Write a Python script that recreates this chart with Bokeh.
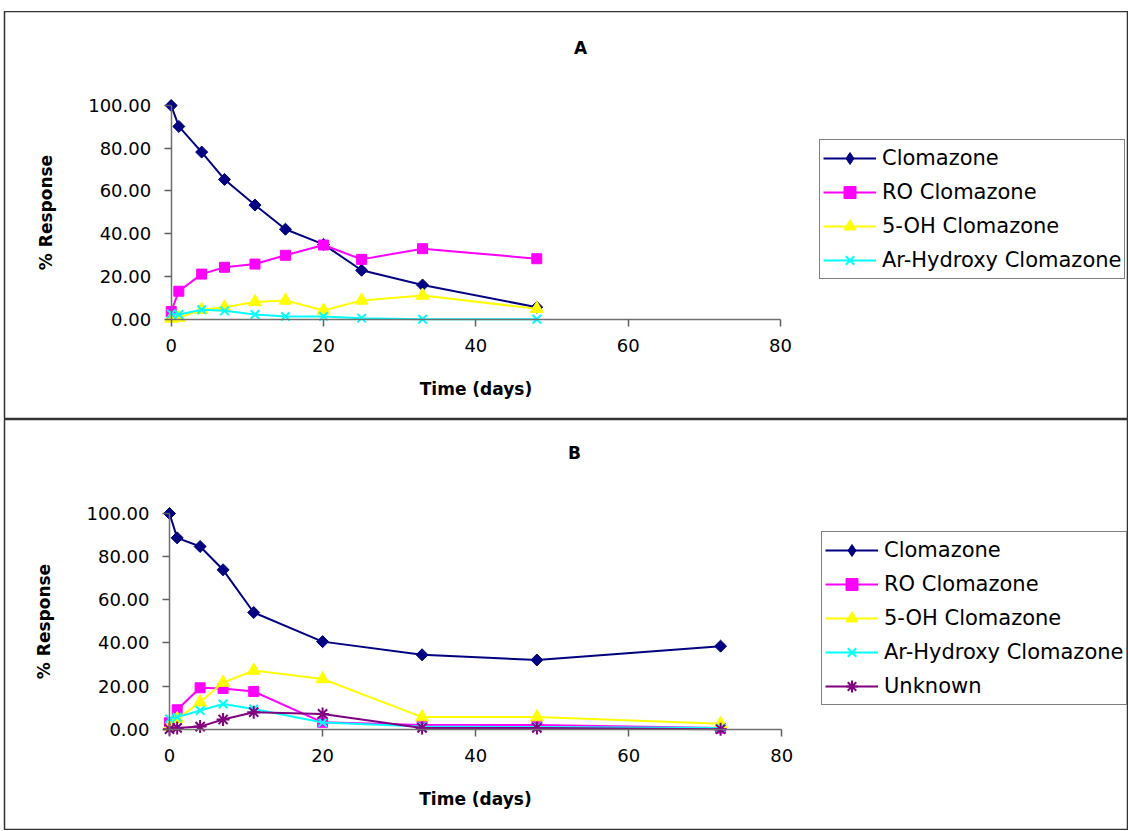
import math
from bokeh.plotting import figure
from bokeh.models import (Range1d, FixedTicker, NumeralTickFormatter, Legend,
                          LegendItem, Label, Spacer)
from bokeh.layouts import column
from bokeh.embed import file_html
from bokeh.resources import INLINE

# ---------------- data ----------------
days_a = [0, 1, 4, 7, 11, 15, 20, 25, 33, 48]
a_clomazone = [100.0, 90.2, 78.2, 65.4, 53.4, 42.1, 35.0, 22.9, 16.0, 5.6]
a_ro = [3.6, 13.1, 21.1, 24.3, 25.8, 29.9, 34.7, 28.0, 33.0, 28.3]
a_5oh = [0.3, 0.8, 4.4, 5.6, 8.1, 8.8, 4.1, 8.8, 11.1, 4.9]
a_arhydroxy = [2.5, 2.2, 4.4, 3.9, 2.2, 1.3, 1.3, 0.5, 0.0, 0.0]

days_b = [0, 1, 4, 7, 11, 20, 33, 48, 72]
b_clomazone = [100.0, 88.7, 84.7, 73.9, 54.1, 40.6, 34.5, 32.1, 38.5]
b_ro = [3.0, 9.0, 19.2, 18.9, 17.5, 3.2, 2.0, 2.0, 0.5]
b_5oh = [1.2, 4.8, 12.5, 21.6, 27.2, 23.3, 5.6, 5.6, 2.5]
b_arhydroxy = [4.8, 5.6, 8.7, 11.7, 9.4, 3.1, 1.2, 1.0, 0.5]
b_unknown = [0.0, 0.6, 1.2, 4.5, 7.9, 7.1, 0.6, 0.6, 0.0]

series_names = ["Clomazone", "RO Clomazone", "5-OH Clomazone",
                "Ar-Hydroxy Clomazone", "Unknown"]
x_ticks = [0, 20, 40, 60, 80]
y_ticks = [0, 20, 40, 60, 80, 100]

# ---------------- styles ----------------
STYLE = {
    "Clomazone": dict(color="#000080", marker="square", size=8.5, angle=math.pi / 4, lw=1,
                      legend_marker="diamond", legend_size=14),
    "RO Clomazone": dict(color="#FF00FF", marker="square", size=10, angle=0, lw=1),
    "5-OH Clomazone": dict(color="#FFFF00", marker="triangle", size=13, angle=0, lw=1),
    "Ar-Hydroxy Clomazone": dict(color="#00FFFF", marker="x", size=12, angle=0, lw=2),
    "Unknown": dict(color="#800080", marker="asterisk", size=13, angle=0, lw=2),
}
FONT = "DejaVu Sans"
W = 1128


def make_panel(title, days, data, page_top, fig_h, box_left, x0p, x80p, y0p, y100p,
               title_page, legend_page):
    # page -> data mapping (frame covers the whole panel box)
    sx = (x80p - x0p) / 80.0
    sy = (y0p - y100p) / 100.0
    page_bottom = page_top + fig_h
    x_start = (box_left - x0p) / sx
    x_end = (W - x0p) / sx
    y_start = (y0p - page_bottom) / sy
    y_end = (y0p - page_top) / sy

    p = figure(width=W, height=fig_h, output_backend="svg", toolbar_location=None,
               x_range=Range1d(x_start, x_end), y_range=Range1d(y_start, y_end),
               min_border_left=box_left, min_border_right=0,
               min_border_top=0, min_border_bottom=0, title=None)
    p.outline_line_color = "#333333"
    p.outline_line_width = 1.5
    p.xgrid.visible = False
    p.ygrid.visible = False
    p.background_fill_color = "white"
    p.border_fill_color = "white"

    for ax in (p.xaxis[0], p.yaxis[0]):
        ax.fixed_location = 0
        ax.axis_line_color = "#707070"
        ax.axis_line_width = 1.5
        ax.major_tick_line_color = "#606060"
        ax.major_tick_line_width = 1.5
        ax.major_tick_in = 0
        ax.major_tick_out = 7
        ax.minor_tick_line_color = None
        ax.major_label_text_font = FONT
        ax.major_label_text_font_size = "18px"
        ax.major_label_text_color = "black"
        ax.axis_label_text_font = FONT
        ax.axis_label_text_font_style = "bold"
        ax.axis_label_text_font_size = "17px"
        ax.axis_label_text_color = "black"

    p.xaxis.bounds = (0, 80)
    p.yaxis.bounds = (0, 100)
    p.xaxis.ticker = FixedTicker(ticks=x_ticks)
    p.yaxis.ticker = FixedTicker(ticks=y_ticks)
    p.yaxis.formatter = NumeralTickFormatter(format="0.00")
    p.xaxis.major_label_standoff = 13
    p.yaxis.major_label_standoff = 13
    p.xaxis.axis_label = "Time (days)"
    p.yaxis.axis_label = "% Response"
    p.xaxis.axis_label_standoff = 23
    p.yaxis.axis_label_standoff = 30

    items = []
    for name, vals in data:
        st = STYLE[name]
        lr = p.line(days, vals, line_color=st["color"], line_width=2)
        sr = p.scatter(days, vals, marker=st["marker"], size=st["size"],
                       angle=st["angle"], fill_color=st["color"],
                       line_color=st["color"], line_width=st["lw"])
        rends = [lr]
        if "legend_marker" in st:
            # legend-only glyph (legend markers are drawn unrotated)
            lg = p.scatter(days, vals, marker=st["legend_marker"], size=st["legend_size"],
                           fill_color=st["color"], line_color=st["color"], visible=False)
            rends.append(lg)
        else:
            rends.append(sr)
        items.append(LegendItem(label=name, renderers=rends))

    # legend position relative to frame bottom-left (screen px)
    lx = legend_page[0] - box_left
    ly = page_bottom - legend_page[1]
    legend = Legend(items=items, location=(lx, ly),
                    label_text_font=FONT, label_text_font_size="21px",
                    label_text_color="black",
                    label_height=30, glyph_height=30, glyph_width=53,
                    spacing=4, padding=3, margin=0, label_standoff=6,
                    border_line_color="black", border_line_width=1,
                    background_fill_color="white", background_fill_alpha=1)
    p.add_layout(legend, "center")

    tx = (title_page[0] - x0p) / sx
    ty = (y0p - title_page[1]) / sy
    p.add_layout(Label(x=tx, y=ty, text=title, text_font=FONT,
                       text_font_style="bold", text_font_size="17px",
                       text_align="center", text_baseline="middle",
                       text_color="black"))
    return p


pa = make_panel("A", days_a,
                [(series_names[0], a_clomazone), (series_names[1], a_ro),
                 (series_names[2], a_5oh), (series_names[3], a_arhydroxy)],
                page_top=11, fig_h=408, box_left=4,
                x0p=170.7, x80p=780.0, y0p=318.7, y100p=105.0,
                title_page=(580, 47), legend_page=(819, 279))
pb = make_panel("B", days_b,
                [(series_names[0], b_clomazone), (series_names[1], b_ro),
                 (series_names[2], b_5oh), (series_names[3], b_arhydroxy),
                 (series_names[4], b_unknown)],
                page_top=419, fig_h=411, box_left=2,
                x0p=167.3, x80p=780.7, y0p=728.7, y100p=513.0,
                title_page=(573, 452), legend_page=(819, 705))

layout = column(Spacer(height=11, width=W), pa, pb, spacing=0)
open("out.html", "w").write(file_html(layout, INLINE))
